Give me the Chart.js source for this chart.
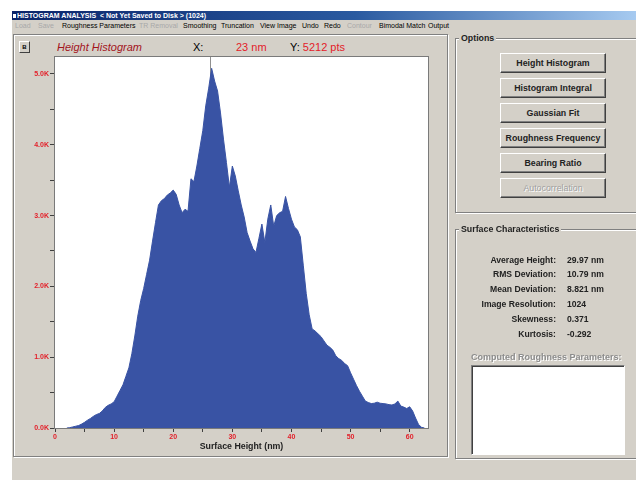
<!DOCTYPE html>
<html>
<head>
<meta charset="utf-8">
<script src="https://cdn.jsdelivr.net/npm/chart.js@4.4.1/dist/chart.umd.min.js"></script>
<style>
  body { margin: 0; width: 636px; height: 480px; overflow: hidden; background: #fff; position: relative;
         font-family: "Liberation Sans", Arial, sans-serif; }
  .a { position: absolute; white-space: nowrap; }
  #win { left: 12px; top: 11px; width: 624px; height: 469px; background: #d4d0c8; }
  #titlebar { left: 12px; top: 11px; width: 624px; height: 9px; background: linear-gradient(to right, #0a246a, #2a5aa0 55%, #a6caf0);
              color: #fff; font-weight: bold; font-size: 7px; line-height: 9px; }
  .menu { top: 21px; font-size: 7px; line-height: 9px; color: #000; }
  .menu.off { color: #a8a8a8; }
  #leftframe { left: 13px; top: 34px; width: 433px; height: 421px; border: 1px solid #808080; box-shadow: 1px 1px 0 #fff, inset 1px 1px 0 #fff; }
  #bbtn { left: 19px; top: 41px; width: 9px; height: 10px; border: 1px solid; border-color: #fff #404040 #404040 #fff;
          font-size: 6px; font-weight: bold; line-height: 10px; text-align: center; }
  .hdr { top: 41px; font-size: 11px; line-height: 12px; }
  .red { color: #e3202a; }
  .group { border: 1px solid #808080; box-shadow: 1px 1px 0 #fff, inset 1px 1px 0 #fff; }
  .glabel { font-size: 8.8px; font-weight: bold; background: #d4d0c8; padding: 0 2px; line-height: 10px; color: #222; }
  .btn { left: 500px; width: 104px; height: 18px; border: 1px solid; border-color: #fff #404040 #404040 #fff;
         box-shadow: inset -1px -1px 0 #808080; font-size: 8.8px; font-weight: bold; line-height: 18px; text-align: center; color: #222; }
  .btn.off { color: #a0a0a0; font-weight: normal; text-shadow: 1px 1px 0 #fff; }
  .lbl { font-size: 8.6px; font-weight: bold; line-height: 10px; color: #222; text-align: right; width: 110px; left: 446px; }
  .val { font-size: 8.6px; font-weight: bold; line-height: 10px; color: #222; left: 567px; }
  #chartbox { left: 13px; top: 36px; width: 436px; height: 421px; }
</style>
</head>
<body>
<div class="a" id="win"></div>
<div class="a" id="titlebar"><span style="display:inline-block;width:3px;height:4px;background:#fff;margin:0 1px 0 1px;vertical-align:middle"></span>HISTOGRAM ANALYSIS &nbsp;&lt; Not Yet Saved to Disk &gt; (1024)</div>

<div class="a menu off" style="left:15px">Load</div>
<div class="a menu off" style="left:38px">Save</div>
<div class="a menu" style="left:62px">Roughness Parameters</div>
<div class="a menu off" style="left:139px">TR Removal</div>
<div class="a menu" style="left:183px">Smoothing</div>
<div class="a menu" style="left:221px">Truncation</div>
<div class="a menu" style="left:260px">View Image</div>
<div class="a menu" style="left:302px">Undo</div>
<div class="a menu" style="left:324px">Redo</div>
<div class="a menu off" style="left:347px">Contour</div>
<div class="a menu" style="left:379px">Bimodal Match</div>
<div class="a menu" style="left:428px">Output</div>

<div class="a" id="leftframe"></div>
<div class="a" id="bbtn">B</div>
<div class="a hdr" style="left:57px;font-style:italic;color:#a3141c">Height Histogram</div>
<div class="a hdr" style="left:193px">X:</div>
<div class="a hdr red" style="left:236px">23 nm</div>
<div class="a hdr" style="left:290px">Y: <span class="red">5212 pts</span></div>

<div class="a" id="chartbox"><canvas id="histogram-chart" width="436" height="421"></canvas></div>

<!-- Options group -->
<div class="a group" style="left:455px;top:38px;width:190px;height:173px"></div>
<div class="a glabel" style="left:459px;top:33px">Options</div>
<div class="a btn" style="top:53px">Height Histogram</div>
<div class="a btn" style="top:78px">Histogram Integral</div>
<div class="a btn" style="top:103px">Gaussian Fit</div>
<div class="a btn" style="top:128px">Roughness Frequency</div>
<div class="a btn" style="top:153px">Bearing Ratio</div>
<div class="a btn off" style="top:178px">Autocorrelation</div>

<!-- Surface characteristics group -->
<div class="a group" style="left:455px;top:229px;width:190px;height:228px"></div>
<div class="a glabel" style="left:459px;top:224px">Surface Characteristics</div>
<div class="a lbl" style="top:255px">Average Height:</div><div class="a val" style="top:255px">29.97 nm</div>
<div class="a lbl" style="top:269px">RMS Deviation:</div><div class="a val" style="top:269px">10.79 nm</div>
<div class="a lbl" style="top:284px">Mean Deviation:</div><div class="a val" style="top:284px">8.821 nm</div>
<div class="a lbl" style="top:299px">Image Resolution:</div><div class="a val" style="top:299px">1024</div>
<div class="a lbl" style="top:314px">Skewness:</div><div class="a val" style="top:314px">0.371</div>
<div class="a lbl" style="top:329px">Kurtosis:</div><div class="a val" style="top:329px">-0.292</div>
<div class="a" style="left:471px;top:352px;font-size:9px;font-weight:bold;color:#8c8c8c;text-shadow:1px 1px 0 #fff;line-height:10px">Computed Roughness Parameters:</div>
<div class="a" style="left:471px;top:365px;width:152px;height:88px;background:#fff;border:1px solid;border-color:#808080 #fff #fff #808080;box-shadow:inset 1px 1px 0 #404040"></div>

<script>
// Histogram bins (surface height, nm) and counts (points per bin)
const heights = [
  2, 2.5, 3, 3.5, 4, 4.5, 5, 5.5, 6, 6.5,
  7, 7.5, 8, 8.5, 9, 9.5, 10, 10.5, 11, 11.5,
  12, 12.5, 13, 13.5, 14, 14.5, 15, 15.5, 16, 16.5,
  17, 17.5, 18, 18.5, 19, 19.5, 20, 20.5, 21, 21.5,
  22, 22.5, 23, 23.5, 24, 24.5, 25, 25.5, 26, 26.5,
  27, 27.5, 28, 28.5, 29, 29.5, 30, 30.5, 31, 31.5,
  32, 32.5, 33, 33.5, 34, 34.5, 35, 35.5, 36, 36.5,
  37, 37.5, 38, 38.5, 39, 39.5, 40, 40.5, 41, 41.5,
  42, 42.5, 43, 43.5, 44, 44.5, 45, 45.5, 46, 46.5,
  47, 47.5, 48, 48.5, 49, 49.5, 50, 50.5, 51, 51.5,
  52, 52.5, 53, 53.5, 54, 54.5, 55, 55.5, 56, 56.5,
  57, 57.5, 58, 58.5, 59, 59.5, 60, 60.5, 61, 61.5,
  62, 62.5
];
const counts = [
  0, 5, 15, 25, 35, 55, 80, 110, 135, 165,
  190, 205, 240, 290, 320, 340, 370, 450, 530, 610,
  730, 850, 1050, 1300, 1580, 1800, 1970, 2170, 2370, 2640,
  2900, 3150, 3210, 3240, 3290, 3320, 3360, 3300, 3150, 3040,
  3090, 3060, 3520, 3480, 3700, 3950, 4200, 4550, 4800, 5080,
  4900, 4760, 4450, 4080, 3750, 3400, 3700, 3560, 3350, 3150,
  2980, 2760, 2640, 2530, 2480, 2680, 2880, 2620, 2950, 3150,
  2850, 3000, 3040, 3060, 3270, 3100, 2950, 2840, 2800, 2700,
  2300, 1900, 1600, 1400, 1370, 1330, 1290, 1230, 1170, 1140,
  1100, 1020, 980, 955, 910, 880, 780, 690, 600, 520,
  450, 380, 360, 345, 350, 365, 350, 345, 340, 330,
  325, 340, 380, 310, 295, 275, 300, 240, 140, 50,
  10, 0
];
// axis ticks: labelled every 10 nm / 1000 pts, minor marks in between
const xTicks = [0, 5, 10, 15, 20, 25, 30, 35, 40, 45, 50, 55, 60];
const xTickLabels = ['0', '', '10', '', '20', '', '30', '', '40', '', '50', '', '60'];
const yTicks = [0, 500, 1000, 1500, 2000, 2500, 3000, 3500, 4000, 4500, 5000];
const yTickLabels = ['0.0K', '', '1.0K', '', '2.0K', '', '3.0K', '', '4.0K', '', '5.0K'];
const cursorX = 26.2;   // position of the readout cursor line
const xMax = 63.1;
const yMax = 5240;

Chart.defaults.font.family = '"Liberation Sans", Arial, sans-serif';

// white plot area, frame and cursor line
const plotFrame = {
  id: 'plotFrame',
  beforeDatasetsDraw(chart) {
    const { ctx, chartArea: a, scales } = chart;
    ctx.save();
    ctx.fillStyle = '#ffffff';
    ctx.fillRect(a.left, a.top, a.right - a.left, a.bottom - a.top);
    const cx = Math.round(scales.x.getPixelForValue(cursorX)) + 0.5;
    ctx.strokeStyle = '#909090';
    ctx.lineWidth = 1;
    ctx.beginPath();
    ctx.moveTo(cx, a.top);
    ctx.lineTo(cx, a.bottom);
    ctx.stroke();
    ctx.restore();
  },
  afterDraw(chart) {
    const { ctx, chartArea: a } = chart;
    ctx.save();
    ctx.strokeStyle = '#7a7a7a';
    ctx.lineWidth = 1;
    ctx.strokeRect(a.left - 0.5, a.top - 0.5, a.right - a.left + 1, a.bottom - a.top + 1);
    ctx.restore();
  }
};

const tickFont = { size: 7, weight: 'bold' };

const ctx = document.getElementById('histogram-chart').getContext('2d');
new Chart(ctx, {
  type: 'line',
  data: {
    datasets: [{
      label: 'Height Histogram',
      data: heights.map((h, i) => ({ x: h, y: counts[i] })),
      backgroundColor: '#3953a4',
      borderColor: '#3953a4',
      borderWidth: 1,
      pointRadius: 0,
      tension: 0,
      fill: 'origin'
    }]
  },
  options: {
    responsive: false,
    animation: false,
    layout: { padding: { left: 0, right: 21, top: 21, bottom: 0 } },
    plugins: { legend: { display: false }, tooltip: { enabled: false } },
    scales: {
      x: {
        type: 'linear',
        min: 0,
        max: xMax,
        afterBuildTicks: (s) => { s.ticks = xTicks.map(v => ({ value: v })); },
        afterFit: (s) => { s.height = 29; },
        border: { display: false },
        grid: { drawOnChartArea: false, drawTicks: true, tickLength: 4, tickColor: '#404040' },
        ticks: {
          autoSkip: false,
          maxRotation: 0,
          padding: 1,
          color: '#e3202a',
          font: tickFont,
          callback: (v, i) => xTickLabels[i]
        },
        title: {
          display: true,
          text: 'Surface Height (nm)',
          color: '#222',
          font: { size: 8.8, weight: 'bold' },
          padding: { top: 0, bottom: 5 }
        }
      },
      y: {
        min: 0,
        max: yMax,
        afterBuildTicks: (s) => { s.ticks = yTicks.map(v => ({ value: v })); },
        afterFit: (s) => { s.width = 42; },
        border: { display: false },
        grid: { drawOnChartArea: false, drawTicks: true, tickLength: 5, tickColor: '#404040' },
        ticks: {
          autoSkip: false,
          padding: 1,
          color: '#e3202a',
          font: tickFont,
          callback: (v, i) => yTickLabels[i]
        }
      }
    }
  },
  plugins: [plotFrame]
});
</script>
</body>
</html>
